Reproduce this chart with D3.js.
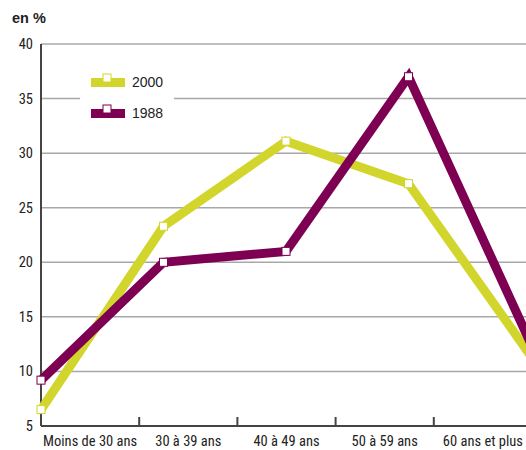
<!DOCTYPE html>
<html>
<head>
<meta charset="utf-8">
<script src="https://cdn.jsdelivr.net/npm/d3@7"></script>
<style>
  body { margin: 0; background: #fff; }
  svg { display: block; }
  .lbl { font-family: "Liberation Sans Narrow", "Roboto Condensed", "Arial Narrow", sans-serif; font-size: 14.5px; fill: #222; }
</style>
</head>
<body>
<div id="chart"></div>
<script>
const W = 526, H = 450
const MARGIN = {top: 44, left: 41, bottom: 24}

const categories = ['Moins de 30 ans', '30 à 39 ans', '40 à 49 ans', '50 à 59 ans', '60 ans et plus']
const yTicks = [5, 10, 15, 20, 25, 30, 35, 40]
const values2000 = [6.5, 23.3, 31.1, 27.2, 11.4]
const values1988 = [9.2, 20.0, 21.0, 37.0, 12.5]
const seriesNames = ['2000', '1988']
const colors = ['#d2d62c', '#7d0052']

const svg = d3.select('#chart').append('svg')
    .attr('width', W)
    .attr('height', H)

// band for labels, point for the lines (same span)
let band = d3.scaleBand().domain(categories).range([MARGIN.left, 532])
let xScale = d3.scalePoint().domain(categories).range([MARGIN.left, 531])
let yScale = d3.scaleLinear().domain([5, 40]).range([H - MARGIN.bottom, MARGIN.top])

svg.append('text')
    .text('en %')
    .attr('x', 12).attr('y', 23)
    .style('font-family', 'Liberation Sans, Arial, sans-serif')
    .style('font-weight', 'bold')
    .style('font-size', '14.5px')
    .style('fill', '#222')

// grid
svg.append('g').selectAll('line')
    .data(yTicks.filter(d => d > 5))
    .join('line')
    .attr('x1', MARGIN.left).attr('x2', W)
    .attr('y1', d => yScale(d)).attr('y2', d => yScale(d))
    .style('stroke', '#a8a8a8')
    .style('stroke-width', 1.5)

// y labels
svg.append('g').selectAll('text')
    .data(yTicks)
    .join('text')
    .attr('class', 'lbl')
    .attr('x', 33)
    .attr('y', d => yScale(d) + 5)
    .attr('text-anchor', 'end')
    .text(d => d)

// axes
svg.append('line')
    .attr('x1', MARGIN.left).attr('x2', MARGIN.left)
    .attr('y1', MARGIN.top).attr('y2', yScale(5))
    .style('stroke', '#444').style('stroke-width', 2)
svg.append('line')
    .attr('x1', MARGIN.left).attr('x2', W)
    .attr('y1', yScale(5)).attr('y2', yScale(5))
    .style('stroke', '#444').style('stroke-width', 2)

svg.append('g').selectAll('line')
    .data(categories.slice(1))
    .join('line')
    .attr('x1', d => band(d)).attr('x2', d => band(d))
    .attr('y1', yScale(5)).attr('y2', yScale(5) - 9)
    .style('stroke', '#444').style('stroke-width', 2)

svg.append('g').selectAll('text')
    .data(categories)
    .join('text')
    .attr('class', 'lbl')
    .attr('x', d => band(d) + band.bandwidth() / 2)
    .attr('y', H - 4)
    .attr('text-anchor', 'middle')
    .text(d => d)

// legend (white box covers the 35 gridline)
svg.append('rect')
    .attr('x', 80).attr('y', 68).attr('width', 94).attr('height', 58)
    .style('fill', '#fff')

let line = d3.line().x((d, i) => xScale(categories[i])).y(d => yScale(d))
let all = [values2000, values1988]

// draw 2000 first, 1988 on top
all.forEach((vals, k) => {
    svg.append('path')
        .datum(vals)
        .attr('d', line)
        .style('fill', 'none')
        .style('stroke', colors[k])
        .style('stroke-width', 9)
        .style('stroke-linejoin', 'miter')
})
all.forEach((vals, k) => {
    svg.append('g').selectAll('rect')
        .data(vals)
        .join('rect')
        .attr('x', (d, i) => xScale(categories[i]) - 4)
        .attr('y', d => yScale(d) - 4)
        .attr('width', 8).attr('height', 8)
        .style('fill', '#fff')
        .style('stroke', colors[k])
        .style('stroke-width', 1)
})

seriesNames.forEach((name, k) => {
    let y = 82 + k * 31
    svg.append('rect')
        .attr('x', 91).attr('y', y - 4).attr('width', 34).attr('height', 9)
        .style('fill', colors[k])
    svg.append('rect')
        .attr('x', 103).attr('y', y - 8).attr('width', 8).attr('height', 8)
        .style('fill', '#fff')
        .style('stroke', colors[k])
        .style('stroke-width', 1)
    svg.append('text')
        .attr('class', 'lbl')
        .attr('x', 132).attr('y', y + 5)
        .style('font-family', 'Liberation Sans, Arial, sans-serif')
        .style('font-size', '14px')
        .text(name)
})
</script>
</body>
</html>
